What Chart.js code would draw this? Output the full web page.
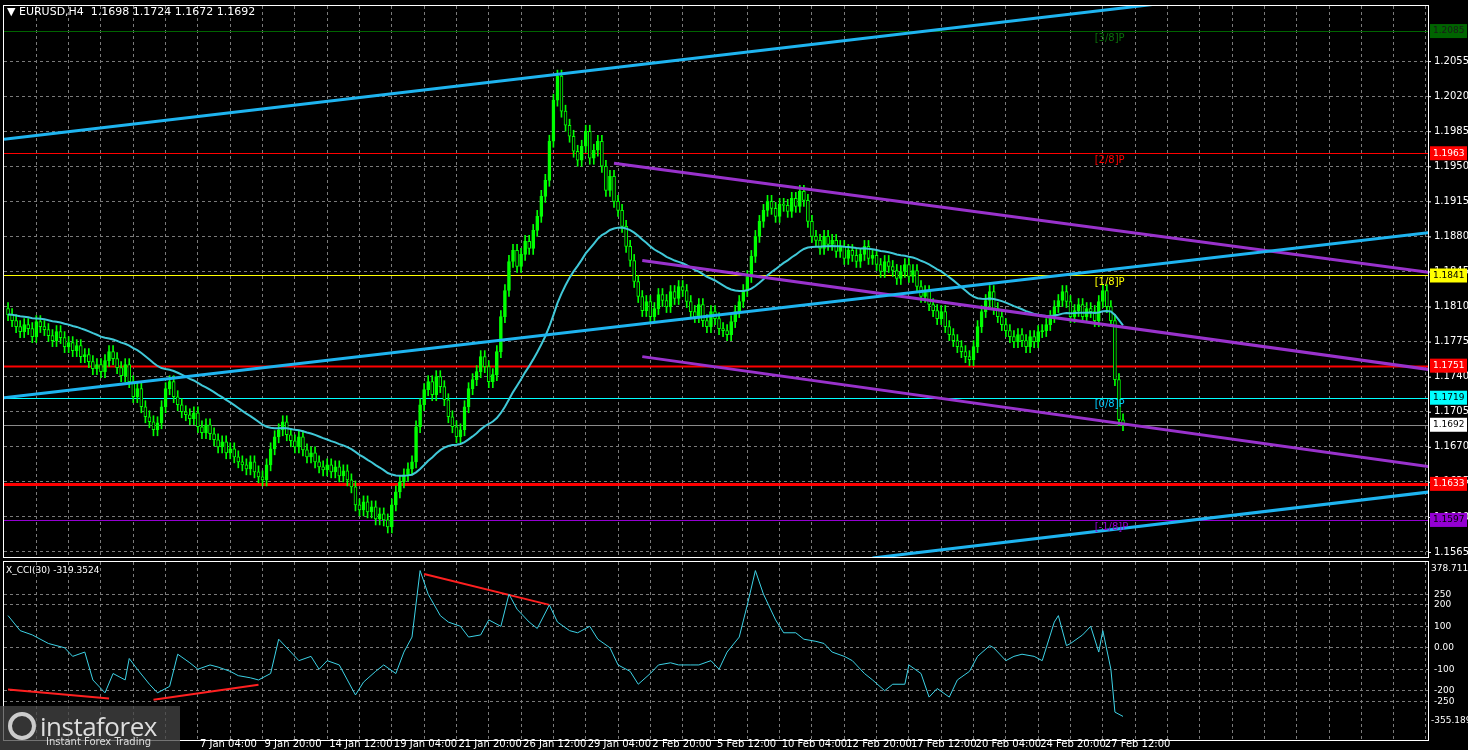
<!DOCTYPE html>
<html>
<head>
<meta charset="utf-8">
<script src="https://cdn.jsdelivr.net/npm/chart.js@4.4.1/dist/chart.umd.min.js"></script>
<style>
  body { margin: 0; background: #000; width: 1468px; height: 750px; overflow: hidden; position: relative; font-family: "DejaVu Sans", sans-serif; }
  #main { position: absolute; left: 0; top: 0; }
  #cci { position: absolute; left: 0; top: 560px; }
  .logo { position: absolute; left: 0; top: 706px; width: 180px; height: 44px; background: rgba(70,70,70,0.75); color: #ddd; }
  .logo b { position: absolute; left: 40px; top: 2px; font: 26px "Open Sans", sans-serif; letter-spacing: -0.5px; }
  .logo i { position: absolute; left: 46px; top: 30px; font: 10px "DejaVu Sans", sans-serif; font-style: normal; }
  .logo span { position: absolute; left: 8px; top: 6px; width: 28px; height: 28px; border: 4px solid #ccc; border-radius: 50%; box-sizing: border-box; }
</style>
</head>
<body>
<canvas id="main" width="1468" height="560"></canvas>
<canvas id="cci" width="1468" height="190"></canvas>
<div class="logo"><span></span><b>instaforex</b><i>Instant Forex Trading</i></div>
<script>
// H4 closes, one per bar
let closes = [
 1.1802,1.1796,1.1790,1.1785,1.1792,1.1788,1.1780,1.1795,1.1790,1.1787,
 1.1781,1.1776,1.1785,1.1779,1.1770,1.1774,1.1766,1.1771,1.1760,1.1762,
 1.1755,1.1748,1.1752,1.1745,1.1756,1.1765,1.1758,1.1749,1.1741,1.1752,
 1.1735,1.1720,1.1728,1.1710,1.1700,1.1695,1.1687,1.1694,1.1710,1.1728,
 1.1735,1.1720,1.1712,1.1705,1.1702,1.1698,1.1704,1.1690,1.1684,1.1692,
 1.1683,1.1677,1.1670,1.1675,1.1664,1.1668,1.1660,1.1655,1.1652,1.1648,
 1.1655,1.1645,1.1640,1.1637,1.1652,1.1668,1.1680,1.1687,1.1695,1.1682,
 1.1676,1.1670,1.1680,1.1667,1.1660,1.1664,1.1655,1.1650,1.1647,1.1652,
 1.1645,1.1650,1.1641,1.1646,1.1637,1.1630,1.1612,1.1607,1.1615,1.1605,
 1.1610,1.1598,1.1603,1.1597,1.1590,1.1612,1.1625,1.1635,1.1642,1.1648,
 1.1655,1.1690,1.1712,1.1727,1.1735,1.1722,1.1740,1.1730,1.1717,1.1700,
 1.1690,1.1680,1.1687,1.1710,1.1728,1.1737,1.1745,1.1760,1.1750,1.1735,
 1.1742,1.1765,1.1800,1.1826,1.1855,1.1866,1.1850,1.1862,1.1875,1.1868,
 1.1886,1.1900,1.1920,1.1936,1.1975,1.2016,1.2040,1.2005,1.1991,1.1980,
 1.1965,1.1956,1.1970,1.1985,1.1958,1.1966,1.1975,1.1950,1.1926,1.1940,
 1.1915,1.1906,1.1890,1.1870,1.1856,1.1835,1.1820,1.1806,1.1815,1.1800,
 1.1808,1.1822,1.1816,1.1810,1.1825,1.1818,1.1830,1.1826,1.1815,1.1805,
 1.1800,1.1812,1.1796,1.1790,1.1805,1.1798,1.1788,1.1786,1.1782,1.1795,
 1.1805,1.1815,1.1826,1.1840,1.1860,1.1880,1.1895,1.1906,1.1915,1.1908,
 1.1900,1.1912,1.1911,1.1905,1.1918,1.1910,1.1925,1.1916,1.1895,1.1880,
 1.1876,1.1868,1.1880,1.1872,1.1876,1.1865,1.1870,1.1858,1.1866,1.1861,
 1.1855,1.1862,1.1870,1.1858,1.1861,1.1852,1.1845,1.1855,1.1850,1.1846,
 1.1838,1.1845,1.1852,1.1840,1.1846,1.1830,1.1820,1.1825,1.1812,1.1806,
 1.1798,1.1805,1.1790,1.1782,1.1776,1.1770,1.1765,1.1760,1.1757,1.1770,
 1.1790,1.1805,1.1816,1.1825,1.1808,1.1800,1.1792,1.1786,1.1780,1.1775,
 1.1782,1.1776,1.1770,1.1780,1.1775,1.1785,1.1786,1.1792,1.1800,1.1810,
 1.1816,1.1825,1.1815,1.1800,1.1806,1.1812,1.1800,1.1808,1.1805,1.1796,
 1.1815,1.1826,1.1810,1.1796,1.1737,1.1697,1.1692
];
let firstOpen = 1.1808;

// CCI(30) samples: bar index and value
let cciIdx = [0,3,6,10,14,16,19,21,24,26,29,30,32,35,37,40,42,45,47,50,52,55,57,60,62,65,67,70,72,75,77,79,82,84,86,88,91,93,96,98,100,102,104,107,109,112,114,117,119,122,124,126,129,131,134,136,139,141,144,146,149,151,154,156,159,161,164,166,169,171,174,176,178,181,183,185,187,190,192,195,197,200,202,204,207,209,212,214,217,219,222,223,226,228,230,233,235,238,240,243,244,247,249,251,254,256,259,260,262,263,266,268,270,271,273,274,276];
let cciVals = [150,80,60,20,0,-40,-20,-150,-210,-120,-150,-50,-100,-170,-210,-180,-30,-70,-100,-80,-90,-110,-130,-140,-150,-120,40,-20,-60,-40,-100,-60,-80,-150,-220,-160,-110,-80,-120,-20,50,360,250,150,120,100,50,60,130,100,250,180,120,90,200,120,80,70,100,40,0,-80,-110,-170,-120,-80,-70,-80,-80,-80,-60,-100,-20,50,200,360,250,130,70,70,40,30,20,-20,-40,-60,-120,-150,-200,-170,-170,-80,-120,-230,-190,-230,-150,-110,-40,10,0,-60,-40,-30,-40,-60,120,150,10,20,60,100,-20,80,-100,-300,-320];

let priceTicks = [1.2055,1.2020,1.1985,1.1950,1.1915,1.1880,1.1845,1.1810,1.1775,1.1740,1.1705,1.1670,1.1635,1.1600,1.1565];
let cciTicks = [250,200,100,0,-100,-200,-250];
let cciTickText = ['250','200','100','0.00','-100','-200','-250'];
let dateLabels = ['7 Jan 04:00','9 Jan 20:00','14 Jan 12:00','19 Jan 04:00','21 Jan 20:00','26 Jan 12:00','29 Jan 04:00','2 Feb 20:00','5 Feb 12:00','10 Feb 04:00','12 Feb 20:00','17 Feb 12:00','20 Feb 04:00','24 Feb 20:00','27 Feb 12:00'];
let dateIdx = [47,63,79,95,111,127,143,159,175,191,207,223,239,255,271];

// horizontal levels: price, line colour, label bg, label text colour, width
let levels = [
  [1.2085,'#006400','#006400','#1a1a1a',1],
  [1.1963,'#ff0000','#ff0000','#ffffff',1],
  [1.1841,'#ffff00','#ffff00','#000000',1],
  [1.1751,'#ff0000','#ff0000','#ffffff',2],
  [1.1719,'#00ffff','#00ffff','#000000',1],
  [1.1692,'#8a8a8a','#ffffff','#000000',1],
  [1.1633,'#ff0000','#ff0000','#ffffff',3],
  [1.1597,'#9400d3','#9400d3','#000000',1]
];
let murrey = [['[3/8]P',1.2085,'#0a6e0a'],['[2/8]P',1.1963,'#ff0000'],['[1/8]P',1.1841,'#ffff00'],['[0/8]P',1.1719,'#00ccff'],['[-1/8]P',1.1597,'#9400d3']];

// trend lines [x0, p0, x1, p1, colour]
let trendLines = [
  [-1,1.1977,352,1.2144,'#1eb4f0'],
  [-1,1.1719,352,1.1884,'#1eb4f0'],
  [214,1.1559,352,1.1625,'#1eb4f0'],
  [150,1.1953,352,1.1844,'#9932cc'],
  [157,1.1856,352,1.1747,'#9932cc'],
  [157,1.1760,352,1.1650,'#9932cc']
];
let cciRed = [[0,-195,25,-237],[36,-242,62,-172],[103,344,134,200]];

let opens = closes.map((c, i) => i === 0 ? firstOpen : closes[i - 1]);
let bodies = closes.map((c, i) => ({x: i, y: [opens[i], c]}));
let wicks = closes.map((c, i) => ({x: i, y: [Math.min(opens[i], c) - 0.0006, Math.max(opens[i], c) + 0.0006]}));
let ma = [];
let s = closes[0];
closes.forEach((c, i) => { s = i === 0 ? c : s + (c - s) / 20; ma.push({x: i, y: s}); });

let gridDash = {color: '#7a7a7a', drawTicks: false, offset: false};
let borderDash = {display: false, dash: [3, 3]};
let xTicks = ax => { let t = []; for (let i = 7; i < 352; i += 8) t.push({value: i}); ax.ticks = t; };

let mainDatasets = [
  {type: 'bar', data: wicks, backgroundColor: '#00ff00', barThickness: 1, grouped: false, order: 3},
  {type: 'bar', data: bodies, backgroundColor: closes.map((c, i) => c >= opens[i] ? '#00ff00' : '#000000'),
   borderColor: '#00ff00', borderWidth: 1, borderSkipped: false, barThickness: 3, grouped: false, order: 2},
  {type: 'line', data: ma, borderColor: '#40c8d8', borderWidth: 2, pointRadius: 0, order: 1}
];
trendLines.forEach(t => mainDatasets.push({type: 'line', data: [{x: t[0], y: t[1]}, {x: t[2], y: t[3]}],
  borderColor: t[4], borderWidth: 3, pointRadius: 0, order: 0}));

let levelPlugin = {
  id: 'levels',
  beforeDatasetsDraw(chart) {
    let c = chart.ctx, a = chart.chartArea, y = chart.scales.y;
    levels.forEach(l => {
      let py = Math.round(y.getPixelForValue(l[0])) + 0.5;
      c.save(); c.strokeStyle = l[1]; c.lineWidth = l[4];
      c.beginPath(); c.moveTo(a.left, py); c.lineTo(a.right, py); c.stroke(); c.restore();
    });
  },
  afterDraw(chart) {
    let c = chart.ctx, a = chart.chartArea, y = chart.scales.y, x = chart.scales.x;
    c.save();
    c.strokeStyle = '#ffffff'; c.lineWidth = 1;
    c.strokeRect(a.left - 0.5, a.top - 0.5, a.right - a.left + 1, a.bottom - a.top + 1);
    c.font = '10px "DejaVu Sans"'; c.textBaseline = 'middle';
    c.fillStyle = '#ffffff';
    priceTicks.forEach(p => {
      let py = y.getPixelForValue(p);
      c.beginPath(); c.moveTo(a.right, py + 0.5); c.lineTo(a.right + 3, py + 0.5); c.stroke();
      c.fillText(p.toFixed(4), a.right + 6, py);
    });
    murrey.forEach(m => {
      c.fillStyle = m[2];
      c.fillText(m[0], x.getPixelForValue(269), y.getPixelForValue(m[1]) + 7);
    });
    c.font = '9px "DejaVu Sans"';
    levels.forEach(l => {
      let py = y.getPixelForValue(l[0]);
      c.fillStyle = l[2]; c.fillRect(a.right + 2, py - 7, 37, 14);
      c.fillStyle = l[3]; c.fillText(l[0].toFixed(4), a.right + 5, py);
    });
    c.fillStyle = '#ffffff'; c.font = '11px "DejaVu Sans"';
    c.fillText('\u25BC EURUSD,H4  1.1698 1.1724 1.1672 1.1692', 7, 12);
    c.restore();
  }
};

new Chart(document.getElementById('main'), {
  type: 'bar',
  data: {datasets: mainDatasets},
  options: {
    responsive: false, animation: false,
    layout: {padding: {left: 4, top: 6, bottom: 3, right: 40}},
    plugins: {legend: {display: false}, tooltip: {enabled: false}},
    scales: {
      x: {type: 'linear', offset: false, min: -1, max: 351.5, border: borderDash,
          ticks: {display: false}, grid: gridDash, afterBuildTicks: xTicks, afterFit: ax => { ax.height = 0; }},
      y: {min: 1.1560, max: 1.2110, border: borderDash, grid: gridDash, display: true,
          ticks: {display: false}, afterFit: ax => { ax.width = 0; },
          afterBuildTicks: ax => { ax.ticks = priceTicks.map(v => ({value: v})); }}
    }
  },
  plugins: [levelPlugin]
});

let cciDatasets = [{data: cciIdx.map((v, i) => ({x: v, y: cciVals[i]})), borderColor: '#3cd2e6', borderWidth: 1, pointRadius: 0}];
cciRed.forEach(r => cciDatasets.push({data: [{x: r[0], y: r[1]}, {x: r[2], y: r[3]}], borderColor: '#ff2020', borderWidth: 2, pointRadius: 0}));

let cciPlugin = {
  id: 'cciFrame',
  afterDraw(chart) {
    let c = chart.ctx, a = chart.chartArea, x = chart.scales.x, y = chart.scales.y;
    c.save();
    c.strokeStyle = '#ffffff'; c.lineWidth = 1;
    c.strokeRect(a.left - 0.5, a.top - 0.5, a.right - a.left + 1, a.bottom - a.top + 1);
    c.fillStyle = '#ffffff'; c.font = '9px "DejaVu Sans"'; c.textBaseline = 'middle';
    c.fillText('X_CCI(30) -319.3524', 6, 11);
    c.fillText('378.7116', a.right + 3, 9);
    c.fillText('-355.189', a.right + 3, 161);
    cciTicks.forEach((v, i) => c.fillText(cciTickText[i], a.right + 6, y.getPixelForValue(v)));
    c.font = '10px "DejaVu Sans"';
    dateLabels.forEach((d, i) => c.fillText(d, x.getPixelForValue(dateIdx[i]) + 2, 184));
    c.restore();
  }
};

new Chart(document.getElementById('cci'), {
  type: 'line',
  data: {datasets: cciDatasets},
  options: {
    responsive: false, animation: false,
    layout: {padding: {left: 4, top: 2, bottom: 10, right: 40}},
    plugins: {legend: {display: false}, tooltip: {enabled: false}},
    scales: {
      x: {type: 'linear', offset: false, min: -1, max: 351.5, border: borderDash,
          ticks: {display: false}, grid: gridDash, afterBuildTicks: xTicks, afterFit: ax => { ax.height = 0; }},
      y: {min: -430, max: 400, border: borderDash, grid: gridDash,
          ticks: {display: false}, afterFit: ax => { ax.width = 0; },
          afterBuildTicks: ax => { ax.ticks = cciTicks.map(v => ({value: v})); }}
    }
  },
  plugins: [cciPlugin]
});
</script>
</body>
</html>
